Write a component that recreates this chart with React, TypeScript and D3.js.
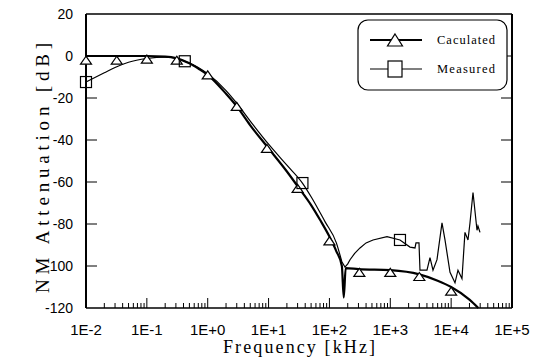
import React from "react";
import * as d3 from "d3";

const calcFreq = [0.01, 0.03, 0.1, 0.2, 0.3, 0.5, 0.7, 1, 2, 3, 5, 10, 20, 30, 50, 70, 100, 130, 160, 172, 185, 300, 1000, 3000, 6000, 10000, 20000, 28000];
const calcDb = [0, 0, 0, -0.3, -1, -3.5, -6, -9, -18, -24, -33, -44, -55, -62, -71, -78, -86, -93, -100, -115, -101, -101.5, -102, -104, -107, -110, -116, -120];

const calcMarkFreq = [0.01, 0.032, 0.1, 0.31, 1, 3, 9.4, 30, 100, 310, 1000, 3000, 10000];
const calcMarkDb = [-2, -2, -1.5, -2, -9, -24, -44, -63, -88, -103, -103, -105, -112];

const measFreq = [0.01, 0.02, 0.03, 0.05, 0.1, 0.2, 0.3, 0.42, 0.7, 1, 2, 3, 5, 10, 20, 36, 50, 85, 130, 160, 180, 200, 218, 260, 318, 400, 520, 883, 1443, 2107, 2548, 2645, 2963, 3076, 4010, 4490, 5034, 5853, 7075, 7925, 9580, 11570, 12950, 15060, 16870, 18920, 20400, 22870, 26600, 27600, 29800];
const measDb = [-12.4, -8, -5.5, -3, -1.2, -0.5, -1, -2.5, -5.5, -8.5, -16.5, -22.5, -31, -42, -52, -60.5, -67, -79, -89, -98, -100.5, -99, -97, -94, -91.4, -89, -87.6, -86, -87.6, -91, -91.4, -89, -89, -102, -102, -96, -102, -97, -79.5, -87.6, -103, -108, -102, -106, -84, -87.6, -79.5, -65, -83, -81, -84];

const measMarkFreq = [0.01, 0.42, 36, 1443];
const measMarkDb = [-12.4, -2.5, -60.5, -87.6];

const xTickVals = [1e-2, 1e-1, 1e0, 1e1, 1e2, 1e3, 1e4, 1e5];
const xTickLabels = ["1E-2", "1E-1", "1E+0", "1E+1", "1E+2", "1E+3", "1E+4", "1E+5"];
const yTickVals = [20, 0, -20, -40, -60, -80, -100, -120];

export default function App() {
  const W = 533, H = 362;
  const L = 86, R = 512, T = 14, B = 308;
  const x = d3.scaleLog().domain([1e-2, 1e5]).range([L, R]);
  const y = d3.scaleLinear().domain([-120, 20]).range([B, T]);

  const calcPts: [number, number][] = calcFreq.map((f, i) => [f, calcDb[i]]);
  const measPts: [number, number][] = measFreq.map((f, i) => [f, measDb[i]]);
  const smooth = d3.line<[number, number]>().x(d => x(d[0])).y(d => y(d[1])).curve(d3.curveMonotoneX);
  const lin = d3.line<[number, number]>().x(d => x(d[0])).y(d => y(d[1]));

  const minor: number[] = [];
  for (let e = -2; e < 5; e++) for (let k = 2; k <= 9; k++) minor.push(k * Math.pow(10, e));

  const tri = (cx: number, cy: number, w: number, h: number) =>
    `M${cx},${cy - h / 2}L${cx + w / 2},${cy + h / 2}L${cx - w / 2},${cy + h / 2}Z`;

  const serif = "'Liberation Serif', 'Times New Roman', serif";
  const sans = "'Liberation Sans', Arial, sans-serif";

  return (
    <svg width={W} height={H} style={{ position: "absolute", left: 0, top: 0, background: "#fff" }}>
      <rect x={0} y={0} width={W} height={H} fill="#fff" />
      {/* frame */}
      <line x1={L} y1={T} x2={R} y2={T} stroke="#000" strokeWidth={1.5} />
      <line x1={L} y1={B} x2={R} y2={B} stroke="#000" strokeWidth={1.5} />
      <line x1={L} y1={T} x2={L} y2={B} stroke="#000" strokeWidth={2} />
      <line x1={R} y1={T} x2={R} y2={B} stroke="#000" strokeWidth={2} />
      {/* x ticks */}
      {xTickVals.map(v => (
        <line key={"xm" + v} x1={x(v)} x2={x(v)} y1={B} y2={B - 10} stroke="#000" strokeWidth={1} />
      ))}
      {minor.map(v => (
        <line key={"xn" + v} x1={x(v)} x2={x(v)} y1={B} y2={B - 5} stroke="#000" strokeWidth={1} />
      ))}
      {xTickVals.map((v, i) => (
        <text key={"xl" + v} x={x(v)} y={335} textAnchor="middle" fontFamily={sans} fontSize={15}>{xTickLabels[i]}</text>
      ))}
      {/* y ticks */}
      {yTickVals.filter(v => v > -120 && v < 20).map(v => (
        <g key={"yt" + v}>
          <line x1={L} x2={L + 11} y1={y(v)} y2={y(v)} stroke="#000" strokeWidth={1} />
          <line x1={R} x2={R - 11} y1={y(v)} y2={y(v)} stroke="#000" strokeWidth={1} />
        </g>
      ))}
      {yTickVals.map(v => (
        <text key={"yl" + v} x={73} y={y(v) + 5} textAnchor="end" fontFamily={sans} fontSize={14}>{String(v)}</text>
      ))}
      {/* curves */}
      <path d={smooth(measPts.slice(0, 20)) + "L" + lin(measPts.slice(19))!.slice(1)} fill="none" stroke="#000" strokeWidth={1.2} />
      <path d={smooth(calcPts) || ""} fill="none" stroke="#000" strokeWidth={2.2} />
      {calcMarkFreq.map((f, i) => (
        <path key={"ct" + i} d={tri(x(f), y(calcMarkDb[i]), 11, 8)} fill="#fff" stroke="#000" strokeWidth={1.2} />
      ))}
      {measMarkFreq.map((f, i) => (
        <rect key={"ms" + i} x={x(f) - 5.5} y={y(measMarkDb[i]) - 5.5} width={11} height={11} fill="none" stroke="#000" strokeWidth={1.2} />
      ))}
      {/* legend */}
      <rect x={358} y={20} width={149} height={70} rx={10} ry={10} fill="#fff" stroke="#000" strokeWidth={1.2} />
      <line x1={370} x2={422} y1={40} y2={40} stroke="#000" strokeWidth={2} />
      <path d={tri(395, 40, 15, 12)} fill="#fff" stroke="#000" strokeWidth={1.2} />
      <text x={437} y={44} fontFamily={serif} fontSize={12.5} textLength={58} lengthAdjust="spacing">Caculated</text>
      <line x1={370} x2={422} y1={69} y2={69} stroke="#000" strokeWidth={1.2} />
      <rect x={388} y={61} width={14} height={16} fill="#fff" stroke="#000" strokeWidth={1.2} />
      <text x={437} y={73} fontFamily={serif} fontSize={12.5} textLength={58} lengthAdjust="spacing">Measured</text>
      {/* axis titles */}
      <text x={299} y={353} textAnchor="middle" fontFamily={serif} fontSize={18} textLength={152} lengthAdjust="spacing">Frequency  [kHz]</text>
      <text transform="translate(49,168) rotate(-90)" textAnchor="middle" fontFamily={serif} fontSize={19} textLength={250} lengthAdjust="spacing">NM Attenuation  [dB]</text>
    </svg>
  );
}
